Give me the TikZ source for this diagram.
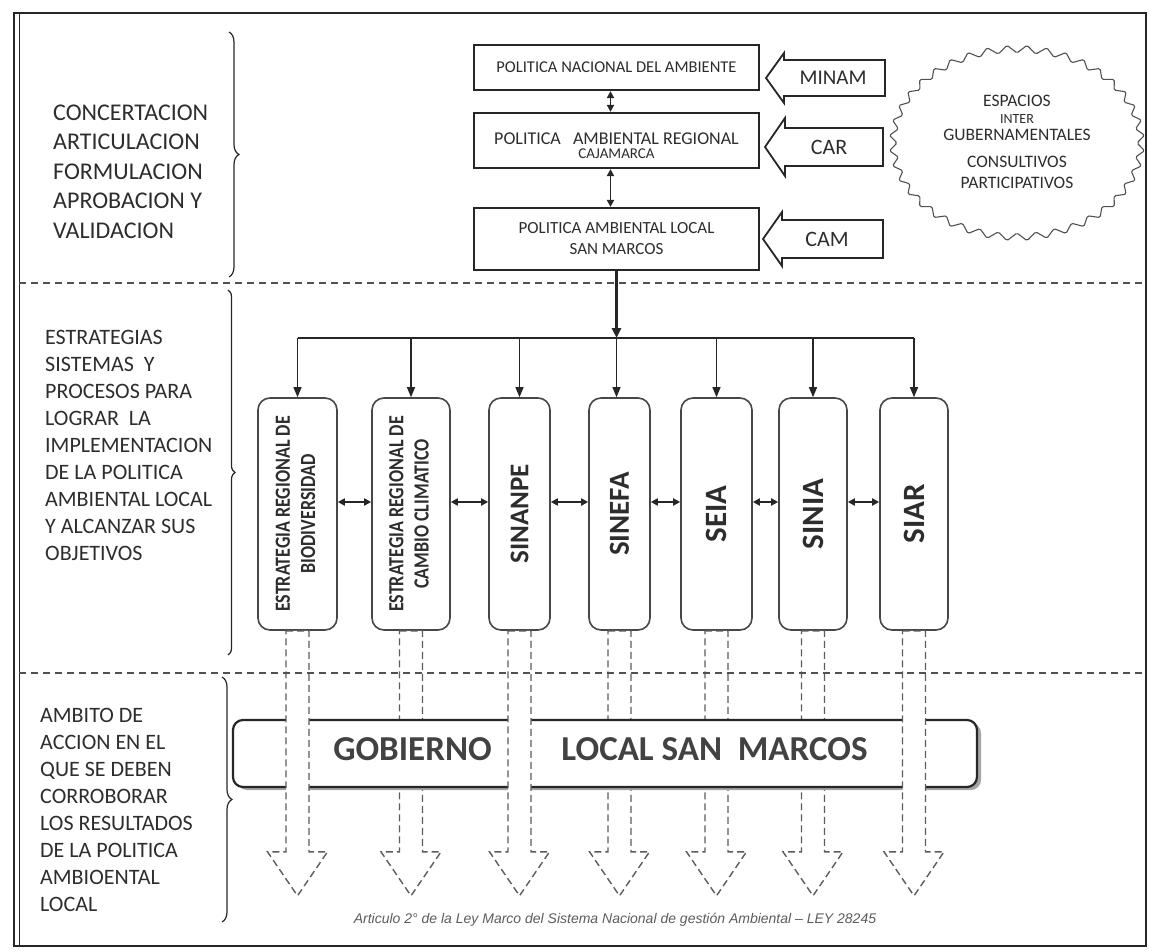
\documentclass[tikz,border=0pt]{standalone}
\usepackage{fontspec}
\setmainfont{Carlito}
\newfontfamily\footfont{Liberation Sans}
\usetikzlibrary{arrows.meta,decorations.pathreplacing,calc}
\definecolor{ink}{RGB}{38,38,38}
\definecolor{txt}{RGB}{45,45,45}
\definecolor{shade}{RGB}{165,165,165}
\newcommand\fs[2]{\fontsize{#1}{#2}\selectfont}
\newcommand\dnarrow[1]{\draw[dashblock] ([xshift=-11.5pt]#1.south) -- ++(23,0) -- ++(0,221) -- ++(18.5,0) -- ++(-30,44) -- ++(-30,-44) -- ++(18.5,0) -- cycle;}
\tikzset{
 pbox/.style={draw=ink, line width=2.2pt, fill=white, minimum width=285pt, inner sep=0pt, align=center, text=txt},
 vbox/.style={draw=ink!85, line width=1.6pt, rounded corners=12pt, minimum height=232pt, inner sep=0pt, text=txt, font=\bfseries},
 blockarrow/.style={draw=ink, line width=1.8pt, fill=white},
 dashblock/.style={draw=ink!75, line width=1.4pt, dash pattern=on 7pt off 4pt, fill=white},
 sect/.style={draw=ink!80, line width=1.5pt, dash pattern=on 7pt off 5pt},
 brc/.style={draw=ink, line width=1.2pt, decorate, decoration={brace, amplitude=#1}},
 lefttext/.style={anchor=north west, inner sep=0pt, align=left, text=txt},
 conn/.style={draw=ink, line width=1.3pt, -{Triangle[length=10pt,width=8pt]}},
 dbl/.style={draw=ink, line width=1.8pt, {Triangle[length=7pt,width=7pt]}-{Triangle[length=7pt,width=7pt]}},
 lbl/.style={text=txt, inner sep=0pt}
}
\begin{document}
\begin{tikzpicture}[x=1pt,y=-1pt]
\useasboundingbox (0,0) rectangle (1149,952);
% frame
\draw[ink, line width=2.5pt] (14,13) rectangle (1146,946);
\draw[ink, line width=1pt] (19,13) -- (19,946);

% top policy boxes
\node[pbox, minimum height=45pt, font=\fs{16.5}{20}] (p1) at (616.5,67.5) {POLITICA NACIONAL DEL AMBIENTE};
\node[pbox, minimum height=55pt] (p2) at (616.5,140.5) {};
\node[lbl, align=center, font=\fs{18}{14}] (p2t) at (616.5,146) {POLITICA\ \ \ AMBIENTAL REGIONAL\\{\fs{15}{14}CAJAMARCA}};
\node[pbox, minimum height=62pt, font=\fs{17}{21}] (p3) at (616.5,239) {POLITICA AMBIENTAL LOCAL\\SAN MARCOS};
\draw[dbl] ([xshift=-6pt]p1.south) -- ([xshift=-6pt]p2.north);
\draw[dbl] ([xshift=-6pt]p2.south) -- ([xshift=-6pt]p3.north);

% left block arrows
\draw[blockarrow] (766,78) -- (784,53) -- (784,60) -- (885,60) -- (885,96) -- (784,96) -- (784,103) -- cycle;
\draw[blockarrow] (765,147) -- (785,118) -- (785,128) -- (883,128) -- (883,166) -- (785,166) -- (785,176) -- cycle;
\draw[blockarrow] (763,239) -- (782,212) -- (782,220) -- (883,220) -- (883,258) -- (782,258) -- (782,266) -- cycle;
\node[lbl, font=\fs{21}{24}] (minam) at (833,78) {MINAM};
\node[lbl, font=\fs{22}{24}] (car) at (829,147) {CAR};
\node[lbl, font=\fs{22}{24}] (cam) at (827,239) {CAM};

% starburst
\draw[ink!80, line width=1.1pt, rounded corners=1.5pt] plot[samples at={0,4.5,...,355.5}] ({1017+(120+8*mod(round(\x/4.5),2))*cos(\x)}, {143+(90+8*mod(round(\x/4.5),2))*sin(\x)}) -- cycle;
\node[align=center, text=txt, font=\fs{17.5}{18}] (esp) at (1017,141.5) {ESPACIOS\\[-1pt]{\fs{14}{18}INTER}\\[-1pt]GUBERNAMENTALES\\[9pt]CONSULTIVOS\\[3pt]PARTICIPATIVOS};

% vertical boxes
\node[vbox, minimum width=79pt] (b1) at (297.5,514) {\fs{18}{21}\rotatebox{90}{\scalebox{1}[1.2]{\begin{tabular}{@{}c@{}}ESTRATEGIA REGIONAL DE\\BIODIVERSIDAD\end{tabular}}}};
\node[vbox, minimum width=78pt] (b2) at (411,514) {\fs{18}{21}\rotatebox{90}{\scalebox{1}[1.2]{\begin{tabular}{@{}c@{}}ESTRATEGIA REGIONAL DE\\CAMBIO CLIMATICO\end{tabular}}}};
\node[vbox, minimum width=61pt] (b3) at (519.5,514) {\fs{27}{30}\rotatebox{90}{SINANPE}};
\node[vbox, minimum width=61pt] (b4) at (619.5,514) {\fs{29}{30}\rotatebox{90}{SINEFA}};
\node[vbox, minimum width=71pt] (b5) at (716.5,514) {\fs{31}{32}\rotatebox{90}{SEIA}};
\node[vbox, minimum width=68pt] (b6) at (813,514) {\fs{31}{32}\rotatebox{90}{SINIA}};
\node[vbox, minimum width=68pt] (b7) at (914,514) {\fs{31}{32}\rotatebox{90}{SIAR}};

% distribution
\coordinate (hy) at (0,338);
\coordinate (hub) at (p3.south |- hy);
\draw[ink, line width=2.6pt, -{Triangle[length=10pt,width=9pt]}] (p3.south) -- (hub);
\draw[ink, line width=1.5pt] (b1.north |- hy) -- (b7.north |- hy);
\foreach \b in {b1,b2,b3,b5,b6,b7} \draw[conn] (\b.north |- hy) -- (\b.north);
\draw[conn] (hub) -- (hub |- b4.north);
\foreach \a/\b in {b1/b2,b2/b3,b3/b4,b4/b5,b5/b6,b6/b7} \draw[dbl] ([yshift=12pt]\a.east) -- ([yshift=12pt]\b.west);

% dashed arrows behind banner
\dnarrow{b2}\dnarrow{b4}\dnarrow{b5}\dnarrow{b6}
% banner
\node[fill=shade, rounded corners=10pt, minimum width=744pt, minimum height=67pt, inner sep=0pt] (bsh) at (609,756.5) {};
\node[draw=ink, line width=2.2pt, fill=white, rounded corners=10pt, minimum width=744pt, minimum height=67pt, inner sep=0pt] (ban) at (605,753.5) {};
% dashed arrows in front of banner
\dnarrow{b1}\dnarrow{b3}\dnarrow{b7}
\node[lbl, font=\fs{35}{40}\bfseries, text=txt!90] (g1) at (412.5,749) {GOBIERNO};
\node[lbl, font=\fs{35}{40}\bfseries, text=txt!90] (g2) at (714.5,749) {LOCAL SAN\ \ MARCOS};

% section lines
\draw[sect] (19,283) -- (1146,283);
\draw[sect] (19,673) -- (1146,673);

% braces
\draw[brc=10pt] (229,32) -- (229,277);
\draw[brc=7pt] (228,290) -- (228,655);
\draw[brc=10pt] (222,677) -- (222,922);

% left texts
\node[lefttext, font=\fs{24}{29.5}] (s1) at (53,104.5) {CONCERTACION\\ARTICULACION\\FORMULACION\\APROBACION Y\\VALIDACION};
\node[lefttext, font=\fs{22}{27}] (s2) at (45,330) {ESTRATEGIAS\\SISTEMAS\ \ Y\\PROCESOS PARA\\LOGRAR\ \ LA\\IMPLEMENTACION\\DE LA POLITICA\\AMBIENTAL LOCAL\\Y ALCANZAR SUS\\OBJETIVOS};
\node[lefttext, font=\fs{22}{27}] (s3) at (40,708) {AMBITO DE\\ACCION EN EL\\QUE SE DEBEN\\CORROBORAR\\LOS RESULTADOS\\DE LA POLITICA\\AMBIOENTAL\\LOCAL};

% footer
\node[font=\footfont\itshape\fs{14}{16}, text=ink!75] (foot) at (615,920) {Articulo 2° de la Ley Marco del Sistema Nacional de gestión Ambiental – LEY 28245};
\end{tikzpicture}
\end{document}
